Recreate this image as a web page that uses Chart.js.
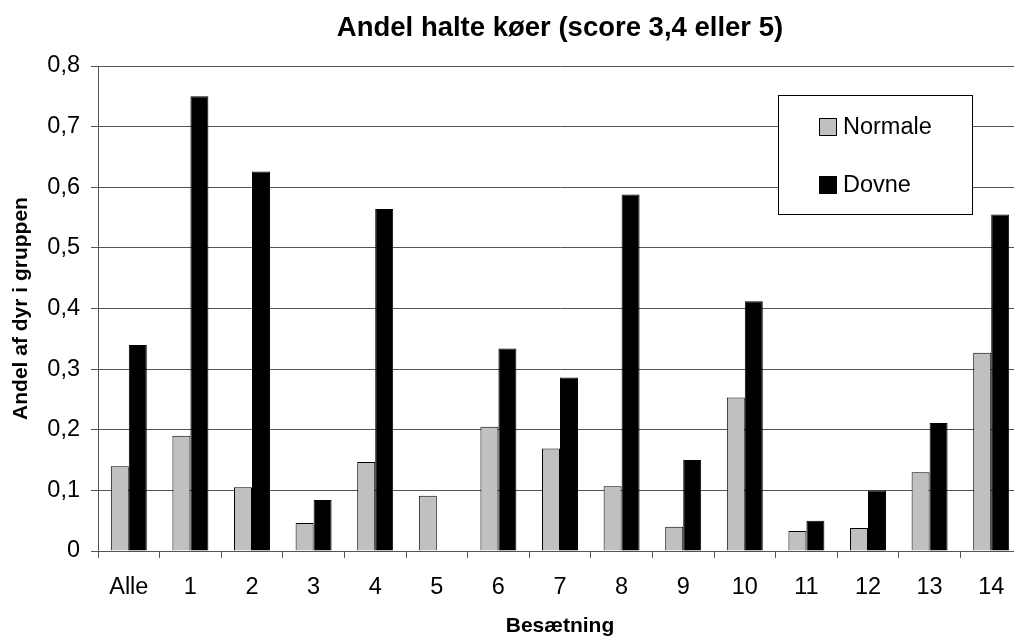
<!DOCTYPE html>
<html lang="da">
<head>
<meta charset="utf-8">
<title>Andel halte køer</title>
<script src="https://cdn.jsdelivr.net/npm/chart.js@4.4.1/dist/chart.umd.min.js"></script>
<style>
  html, body { margin: 0; padding: 0; background: #fff; overflow: hidden; }
  #wrap { width: 1119px; height: 640px; }
</style>
</head>
<body>
<div id="wrap"><canvas id="chart" width="1119" height="640"></canvas></div>
<script>
// Besætninger (herds) on the x axis
const categories = ['Alle', '1', '2', '3', '4', '5', '6', '7', '8', '9', '10', '11', '12', '13', '14'];
// Share of lame cows among normal cows
const normale = [0.140, 0.190, 0.105, 0.046, 0.147, 0.091, 0.205, 0.169, 0.107, 0.040, 0.253, 0.033, 0.038, 0.130, 0.327];
// Share of lame cows among lazy (lying) cows
const dovne = [0.340, 0.750, 0.626, 0.084, 0.564, 0, 0.334, 0.286, 0.588, 0.150, 0.412, 0.050, 0.100, 0.211, 0.555];
const seriesNames = ['Normale', 'Dovne'];
const yTicks = [0, 0.1, 0.2, 0.3, 0.4, 0.5, 0.6, 0.7, 0.8];
const titleText = 'Andel halte køer (score 3,4 eller 5)';
const xTitle = 'Besætning';
const yTitle = 'Andel af dyr i gruppen';

const FONT = "'Liberation Sans', Arial, sans-serif";
const AXIS = '#555555';

// Chart title, centred over the plot area
const plotTitle = {
  id: 'plotTitle',
  afterDraw(chart) {
    const ctx = chart.ctx;
    const a = chart.chartArea;
    ctx.save();
    ctx.fillStyle = '#000';
    ctx.font = 'bold 27.5px ' + FONT;
    ctx.textAlign = 'center';
    ctx.textBaseline = 'alphabetic';
    ctx.fillText(titleText, (a.left + a.right) / 2, 36);
    ctx.restore();
  }
};

// Legend box drawn inside the plot area, on a white background
const boxLegend = {
  id: 'boxLegend',
  afterDatasetsDraw(chart) {
    const ctx = chart.ctx;
    const x = 778.5, y = 95.5, w = 194, h = 119;
    ctx.save();
    ctx.fillStyle = '#fff';
    ctx.fillRect(x, y, w, h);
    ctx.strokeStyle = '#000';
    ctx.lineWidth = 1;
    ctx.strokeRect(x, y, w, h);
    const rows = [127, 185];
    chart.data.datasets.forEach((ds, i) => {
      const cy = rows[i];
      ctx.fillStyle = ds.backgroundColor;
      ctx.fillRect(819.5, cy - 8.5, 17, 17);
      ctx.strokeStyle = '#000';
      ctx.strokeRect(819.5, cy - 8.5, 17, 17);
      ctx.fillStyle = '#000';
      ctx.font = '23.5px ' + FONT;
      ctx.textBaseline = 'middle';
      ctx.textAlign = 'left';
      ctx.fillText(ds.label, 843, cy + 1);
    });
    ctx.restore();
  }
};

new Chart(document.getElementById('chart'), {
  type: 'bar',
  data: {
    labels: categories,
    datasets: [
      { label: seriesNames[0], data: normale, backgroundColor: '#c0c0c0', borderColor: '#000', borderWidth: 1 },
      { label: seriesNames[1], data: dovne, backgroundColor: '#000000', borderColor: '#000', borderWidth: 1 }
    ]
  },
  options: {
    responsive: false,
    animation: false,
    devicePixelRatio: 1,
    layout: { padding: { left: 0, right: 97, top: 66, bottom: 0 } },
    datasets: { bar: { categoryPercentage: 0.584, barPercentage: 1.0 } },
    plugins: {
      legend: { display: false },
      tooltip: { enabled: false },
      title: { display: false }
    },
    scales: {
      x: {
        offset: true,
        grid: { display: true, drawOnChartArea: false, drawTicks: true, tickLength: 7, color: AXIS, offset: true },
        border: { display: true, color: AXIS, width: 1 },
        ticks: { color: '#000', font: { family: FONT, size: 23.5 }, padding: 15, maxRotation: 0, autoSkip: false },
        title: { display: true, text: xTitle, color: '#000', font: { family: FONT, size: 21, weight: 'bold' }, padding: { top: 0, bottom: 1 } },
        afterFit(scale) { scale.height = 89; }
      },
      y: {
        min: 0,
        max: 0.8,
        afterBuildTicks(scale) { scale.ticks = yTicks.map(v => ({ value: v })); },
        grid: { color: AXIS, lineWidth: 1, drawTicks: true, tickLength: 7 },
        border: { display: true, color: AXIS, width: 1 },
        ticks: {
          color: '#000',
          font: { family: FONT, size: 23.5 },
          padding: 11,
          callback: v => v === 0 ? '0' : v.toFixed(1).replace('.', ',')
        },
        title: { display: true, text: yTitle, color: '#000', font: { family: FONT, size: 21, weight: 'bold' }, padding: { top: 9, bottom: 0 } },
        afterFit(scale) { scale.width = 98; }
      }
    }
  },
  plugins: [boxLegend, plotTitle]
});
</script>
</body>
</html>
